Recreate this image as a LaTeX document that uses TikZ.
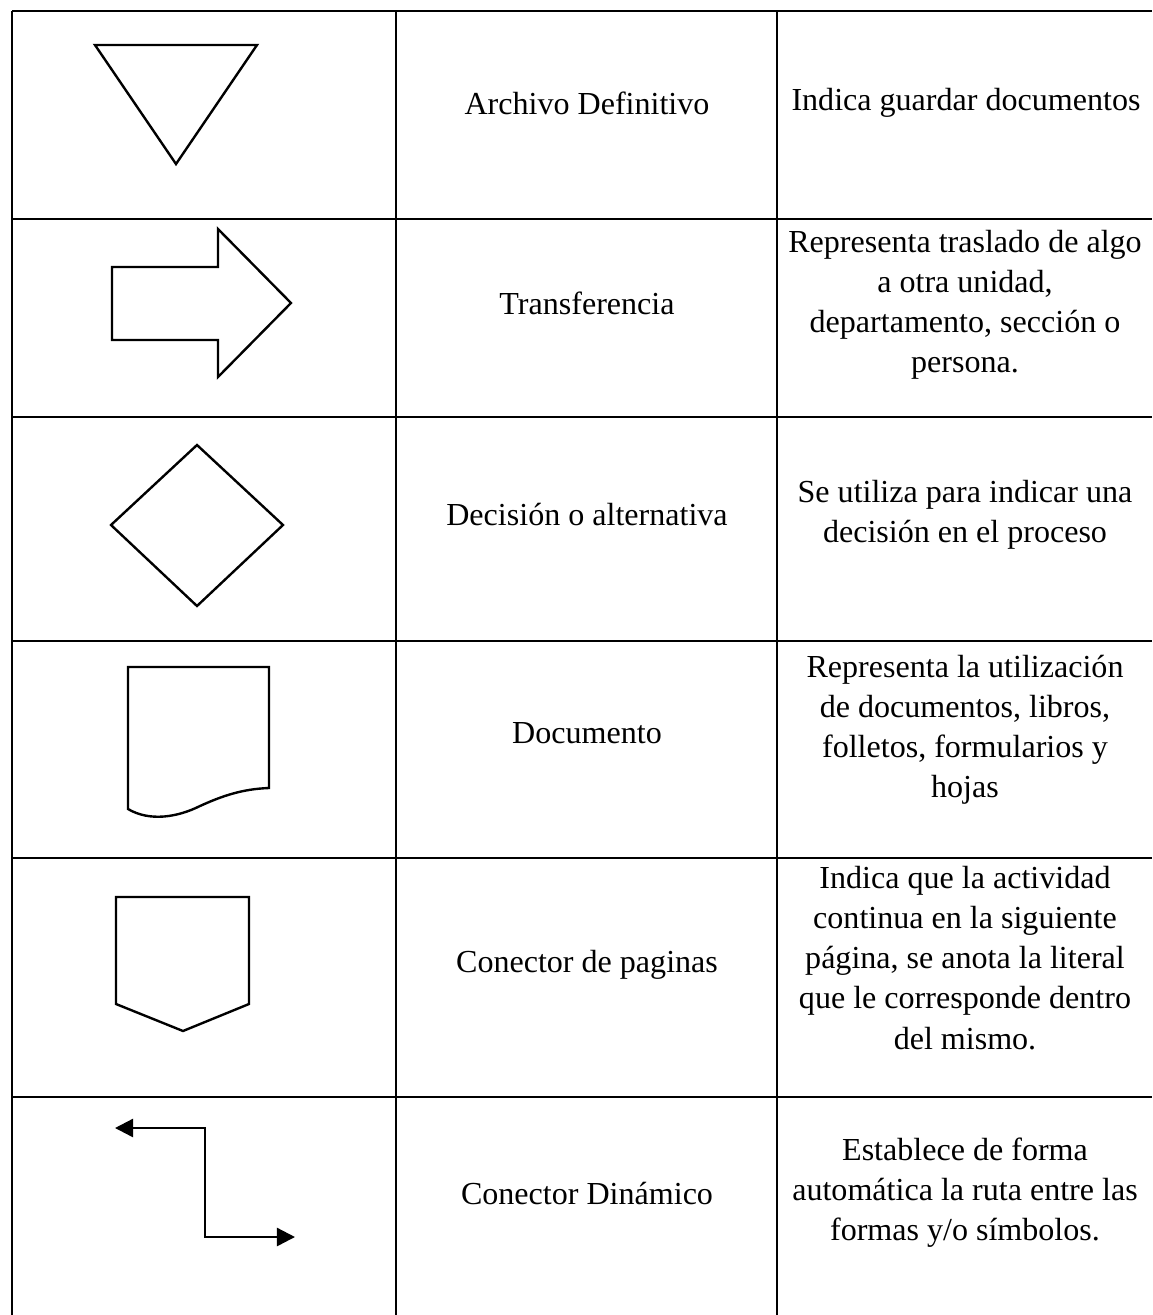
\documentclass[tikz,border=0pt]{standalone}
\usepackage{fontspec}
\setmainfont{Liberation Serif}
\usepackage{tikz}
\usetikzlibrary{calc}
\usetikzlibrary{arrows.meta}

\begin{document}
\begin{tikzpicture}[x=0.025cm,y=-0.025cm]
        \tikzset{cell/.style={align=center,inner sep=0pt,font=\fontsize{22.8}{28.5}\selectfont},
                 grid/.style={line width=0.9pt},
                 symbol/.style={line width=1.7pt,line join=miter},
                 >={Triangle[length=0.45cm,width=0.45cm]}}
        \useasboundingbox (0,0) rectangle (1152,1315);
        
        \coordinate (col_a) at (12,11);
        \coordinate (col_b) at (396,11);
        \coordinate (col_c) at (777,11);
        \coordinate (col_end) at (1152,11);
        
        %tabla
        \draw [grid] (col_a) -- (col_end);
        \draw [grid] (12,219) -- (1152,219);
        \draw [grid] (12,417) -- (1152,417);
        \draw [grid] (12,641) -- (1152,641);
        \draw [grid] (12,858) -- (1152,858);
        \draw [grid] (12,1097) -- (1152,1097);
        \draw [grid] (col_a) -- (12,1315);
        \draw [grid] (col_b) -- (396,1315);
        \draw [grid] (col_c) -- (777,1315);
        
        %Archivo
        \draw [symbol] (95,45) -- (257,45) -- (176,164) -- cycle;
        \node[cell] (name_archivo) at (587,103) {Archivo Definitivo};
        \node[cell] (desc_archivo) at (966,103) {Indica guardar documentos};
        
        %Transferencia
        \draw [symbol] (112,267) -- (218,267) -- (218,229) -- (291,303) -- (218,377) -- (218,340) -- (112,340) -- cycle;
        \node[cell] (name_transf) at (587,303) {Transferencia};
        \node[cell] (desc_transf) at (965,305) {Representa traslado de algo\\a otra unidad,\\departamento, sección o\\persona.};
        
        %Decision
        \draw [symbol] (197,445) -- (283,525) -- (197,606) -- (111,525) -- cycle;
        \node[cell] (name_decision) at (587,515) {Decisión o alternativa};
        \node[cell] (desc_decision) at (965,515) {Se utiliza para indicar una\\decisión en el proceso};
        
        %Documento
        \draw [symbol] (128,809) -- (128,667) -- (269,667) -- (269,788)
              .. controls (242,789) and (222,796) .. (200,806)
              .. controls (178,817) and (150,822) .. (128,809) -- cycle;
        \node[cell] (name_doc) at (587,733) {Documento};
        \node[cell] (desc_doc) at (965,730) {Representa la utilización\\de documentos, libros,\\folletos, formularios y\\hojas};
        
        %Conector de paginas
        \draw [symbol] (116,897) -- (249,897) -- (249,1004) -- (183,1031) -- (116,1004) -- cycle;
        \node[cell] (name_conector) at (587,965) {Conector de paginas};
        \node[cell] (desc_conector) at (965,958) {Indica que la actividad\\continua en la siguiente\\página, se anota la literal\\que le corresponde dentro\\del mismo.};
        
        %Conector dinamico
        \coordinate (dyn_left) at (115,1128);
        \coordinate (dyn_top) at (205,1128);
        \coordinate (dyn_bottom) at (205,1237);
        \coordinate (dyn_right) at (295,1237);
        \draw [symbol,<->] (dyn_left) -- (dyn_top) -- (dyn_bottom) -- (dyn_right);
        \node[cell] (name_dinamico) at (587,1193) {Conector Dinámico};
        \node[cell] (desc_dinamico) at (965,1193) {Establece de forma\\automática la ruta entre las\\formas y/o símbolos.};
\end{tikzpicture}
\end{document}
